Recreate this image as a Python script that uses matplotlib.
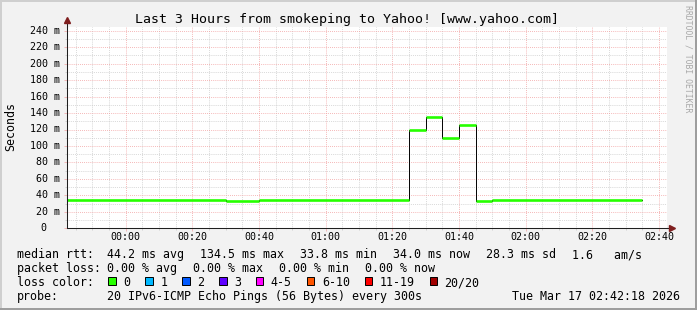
import numpy as np
import matplotlib
matplotlib.use("Agg")
import matplotlib.pyplot as plt
from matplotlib.patches import Rectangle

plt.rcParams["font.family"] = "DejaVu Sans Mono"

W, H = 697, 310

# median rtt (ms), one value per step; edges in minutes relative to 00:00
step_edges = [-17.6, 30, 40, 85, 90, 95, 100, 105, 110, 155]
median_ms = [34.4, 33.2, 34.4, 120.0, 135.5, 110.0, 126.0, 33.4, 34.5]

x_start, x_end = -17.6, 162.4
x_ticks = [0, 20, 40, 60, 80, 100, 120, 140, 160]
x_labels = ["00:00", "00:20", "00:40", "01:00", "01:20", "01:40", "02:00", "02:20", "02:40"]
y_ticks = [0, 20, 40, 60, 80, 100, 120, 140, 160, 180, 200, 220, 240]

title = "Last 3 Hours from smokeping to Yahoo! [www.yahoo.com]"
rtt_stats = [44.2, 134.5, 33.8, 34.0, 28.3]
rtt_names = ["avg", "max", "min", "now", "sd"]
am_s = 1.6
loss_stats = [0.00, 0.00, 0.00, 0.00]
loss_names = ["avg", "max", "min", "now"]
loss_labels = ["0", "1", "2", "3", "4-5", "6-10", "11-19", "20/20"]
loss_colors = ["#26ff00", "#00b8ff", "#0059ff", "#5e00ff", "#ff00ff", "#ff5500", "#ff0000", "#a10000"]
probe_text = "20 IPv6-ICMP Echo Pings (56 Bytes) every 300s"
date_text = "Tue Mar 17 02:42:18 2026"

# rrdtool-like colours
BACK = "#f2f2f2"
SHADEA = "#cfcfcf"
SHADEB = "#9e9e9e"
GRID = "#c4c4c4"
MGRID = "#f2a0a0"
ARROW = "#7f1f1f"
AXIS = "#1f1f1f"

LEG = 8.37   # 7 px per char
AXF = 7.18   # 6 px per char
TTL = 9.57   # 8 px per char


def fx(px):
    return px / W


def fy(py):
    return 1 - py / H


fig = plt.figure(figsize=(W / 100, H / 100), dpi=100, facecolor=BACK)

# 3d-ish frame
fig.add_artist(Rectangle((0, fy(2)), 1, fy(0) - fy(2), transform=fig.transFigure, color=SHADEA, lw=0))
fig.add_artist(Rectangle((0, 0), fx(2), 1, transform=fig.transFigure, color=SHADEA, lw=0))
fig.add_artist(Rectangle((0, 0), 1, 1 - fy(2), transform=fig.transFigure, color=SHADEB, lw=0))
fig.add_artist(Rectangle((fx(W - 2), 0), fx(2), 1, transform=fig.transFigure, color=SHADEB, lw=0))

plot_l, plot_r, plot_t, plot_b = 67, 667, 26.5, 228.3
ax = fig.add_axes([fx(plot_l), fy(plot_b), fx(plot_r - plot_l), fy(plot_t) - fy(plot_b)])
ax.set_facecolor("white")
ax.set_xlim(x_start, x_end)
ax.set_ylim(0, (plot_b - plot_t) / (197.6 / 240))

ax.set_xticks(x_ticks)
ax.set_xticks(np.arange(-15, 165, 5), minor=True)
ax.set_yticks(y_ticks)
ax.set_yticks(np.arange(10, 245, 20), minor=True)
ax.set_xticklabels([])
ax.set_yticklabels([])
ax.tick_params(which="major", length=2.2, width=0.5, color=MGRID, direction="out")
ax.tick_params(which="minor", length=1.5, width=0.5, color=GRID, direction="out")
ax.grid(which="major", color=MGRID, linestyle=(0, (1, 1.5)), linewidth=0.6)
ax.grid(which="minor", color=GRID, linestyle=(0, (1, 1.5)), linewidth=0.55)
ax.set_axisbelow(True)

for s in ["top", "right"]:
    ax.spines[s].set_visible(False)
for s in ["left", "bottom"]:
    ax.spines[s].set_color(AXIS)
    ax.spines[s].set_linewidth(0.75)

# axis extensions + arrows
ax.plot([0, 0], [1, 1.02], transform=ax.transAxes, color=AXIS, lw=0.75, clip_on=False)
ax.plot([0], [1.03], transform=ax.transAxes, marker="^", ms=4, color=ARROW, clip_on=False)
ax.plot([1, 1.006], [0, 0], transform=ax.transAxes, color=AXIS, lw=0.75, clip_on=False)
ax.plot([1.008], [0], transform=ax.transAxes, marker=">", ms=4, color=ARROW, clip_on=False)

# median line: black connectors, loss-coloured horizontal pieces
ax.step(step_edges, median_ms + [median_ms[-1]], where="post", color="black", lw=0.7)
ax.hlines(median_ms, step_edges[:-1], step_edges[1:], color=loss_colors[0], lw=1.9)

# tick labels
xt = ax.get_xaxis_transform()
for t, lab in zip(x_ticks, x_labels):
    ax.text(t, -(240 - plot_b) / (plot_b - plot_t), lab, transform=xt, ha="center",
            va="baseline", fontsize=AXF)
yt = ax.get_yaxis_transform()
for v in y_ticks:
    if v == 0:
        ax.text((46.7 - plot_l) / 600, v, "0", transform=yt, ha="right", va="center", fontsize=AXF)
    else:
        ax.text((59.5 - plot_l) / 600, v, f"{v} m", transform=yt, ha="right", va="center", fontsize=AXF)

fig.text(fx(10.5), fy(126.5), "Seconds", rotation=90, ha="center", va="center", fontsize=LEG)
fig.text(fx(347), fy(23.5), title, ha="center", va="baseline", fontsize=TTL)
fig.text(fx(688), fy(59), "RRDTOOL / TOBI OETIKER", rotation=-90, ha="center", va="center",
         fontsize=5.9, color="#a8a8a8")

# legend
CW, GAP, COL = 7, 16, 107.3
rows = [258, 272, 286, 300]

fig.text(fx(16.7), fy(rows[0]), "median rtt:", va="baseline", fontsize=LEG)
items = [f"{v:.1f} ms {n}" for v, n in zip(rtt_stats, rtt_names)] + [f"{am_s:.1f}   am/s"]
x = COL
for it in items:
    fig.text(fx(x), fy(rows[0]), it, va="baseline", fontsize=LEG)
    x += len(it) * CW + GAP

fig.text(fx(16.7), fy(rows[1]), "packet loss:", va="baseline", fontsize=LEG)
x = COL
for v, n in zip(loss_stats, loss_names):
    it = f"{v:.2f} % {n}"
    fig.text(fx(x), fy(rows[1]), it, va="baseline", fontsize=LEG)
    x += len(it) * CW + GAP

fig.text(fx(16.7), fy(rows[2]), "loss color:", va="baseline", fontsize=LEG)
x = 108.3
for lab, c in zip(loss_labels, loss_colors):
    fig.add_artist(Rectangle((fx(x), fy(285)), fx(7.5), fy(277.3) - fy(285),
                             transform=fig.transFigure, facecolor=c, edgecolor="black", lw=0.7))
    fig.text(fx(x + 15), fy(rows[2]), lab, va="baseline", fontsize=LEG)
    x += 15 + len(lab) * CW + 14.9

fig.text(fx(16.7), fy(rows[3]), "probe:", va="baseline", fontsize=LEG)
fig.text(fx(COL), fy(rows[3]), probe_text, va="baseline", fontsize=LEG)
fig.text(fx(679.5), fy(rows[3]), date_text, ha="right", va="baseline", fontsize=LEG)

fig.savefig("out.png", dpi=100, facecolor=BACK)
